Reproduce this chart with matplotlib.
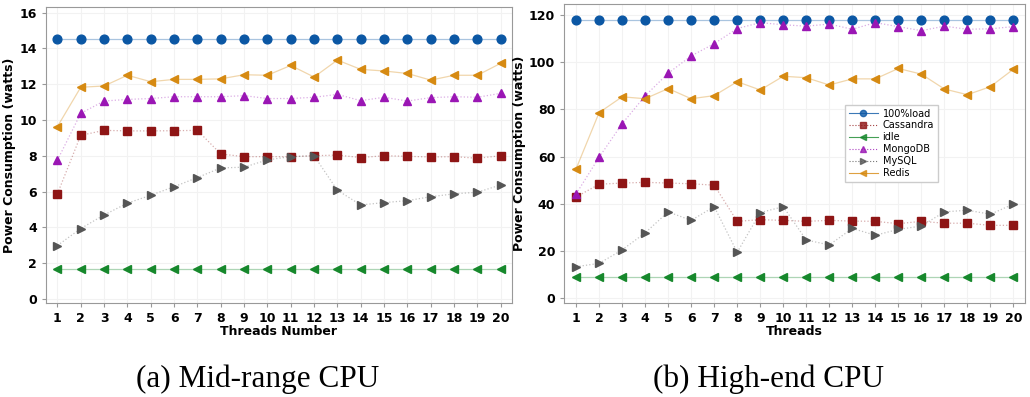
import matplotlib
matplotlib.use("Agg")
from matplotlib import pyplot as plt

threads = list(range(1, 21))

# mid-range CPU (watts)
mid_load = [14.5] * 20
mid_cassandra = [5.87, 9.14, 9.42, 9.39, 9.39, 9.40, 9.42, 8.10, 7.95, 7.95,
                 7.95, 8.00, 8.04, 7.90, 8.00, 7.97, 7.93, 7.95, 7.86, 8.00]
mid_idle = [1.65] * 20
mid_mongodb = [7.75, 10.37, 11.06, 11.15, 11.20, 11.30, 11.30, 11.30, 11.36, 11.20,
               11.20, 11.27, 11.43, 11.08, 11.27, 11.06, 11.25, 11.30, 11.27, 11.49]
mid_mysql = [2.98, 3.93, 4.69, 5.35, 5.79, 6.27, 6.78, 7.32, 7.36, 7.77,
             7.95, 8.00, 6.07, 5.25, 5.38, 5.49, 5.71, 5.87, 5.96, 6.37]
mid_redis = [9.63, 11.83, 11.90, 12.50, 12.14, 12.27, 12.27, 12.30, 12.53, 12.50,
             13.05, 12.40, 13.35, 12.83, 12.74, 12.60, 12.23, 12.50, 12.50, 13.17]

# high-end CPU (watts)
high_load = [118.0] * 20
high_cassandra = [42.9, 48.3, 48.8, 49.1, 48.8, 48.5, 47.9, 32.6, 33.3, 33.0,
                  32.6, 33.0, 32.7, 32.6, 31.6, 32.6, 31.8, 31.8, 30.9, 30.9]
high_idle = [9.0] * 20
high_mongodb = [44.2, 59.7, 73.9, 85.7, 95.3, 102.6, 107.8, 114.2, 116.7, 115.8,
                115.2, 116.1, 113.9, 116.7, 115.0, 113.3, 115.2, 113.9, 114.1, 115.0]
high_mysql = [13.4, 14.8, 20.5, 27.7, 36.6, 33.0, 38.8, 19.5, 36.3, 38.8,
              24.7, 22.6, 29.6, 26.7, 29.2, 30.6, 36.6, 37.3, 35.6, 39.9]
high_redis = [54.8, 78.6, 85.3, 84.5, 88.8, 84.5, 85.8, 91.7, 88.2, 94.0,
              93.4, 90.3, 92.9, 92.9, 97.3, 94.9, 88.6, 86.2, 89.6, 97.0]

names = ["100%load", "Cassandra", "idle", "MongoDB", "MySQL", "Redis"]
colors = ["#0b57a4", "#8e1515", "#16882c", "#9a16b4", "#555555", "#d68a12"]
markers = ["o", "s", "<", "^", ">", "<"]
styles = ["-", ":", "-", ":", ":", "-"]

fig = plt.figure(figsize=(10.3, 3.97), dpi=100)
ax1 = fig.add_axes([0.0444, 0.236, 0.4524, 0.7456])
ax2 = fig.add_axes([0.5479, 0.236, 0.4472, 0.754])

mid = [mid_load, mid_cassandra, mid_idle, mid_mongodb, mid_mysql, mid_redis]
high = [high_load, high_cassandra, high_idle, high_mongodb, high_mysql, high_redis]

for ax, data in [(ax1, mid), (ax2, high)]:
    for vals, name, c, m, ls in zip(data, names, colors, markers, styles):
        ax.plot(threads, vals, color=c, alpha=0.35, lw=0.9, ls=ls)
        ax.plot(threads, vals, ls="none", marker=m, ms=6.3, color=c, mec=c)
        # legend handle
        ax.plot([], [], color=c, ls=ls, lw=0.8, marker=m, ms=4.5, mec=c,
                alpha=0.8, label=name)
    ax.set_xticks(threads)
    ax.grid(True, color="#f2f2f2", lw=0.8)
    ax.set_axisbelow(True)
    for s in ax.spines.values():
        s.set_color("#999999")
    ax.tick_params(colors="#999999", labelcolor="black", length=3, width=0.8,
                   labelsize=9)
    ax.set_ylabel("Power Consumption (watts)", fontsize=9, fontweight="bold",
                  labelpad=2)

ax1.set_xlim(0.5, 20.47)
ax1.set_ylim(-0.25, 16.3)
ax1.set_yticks(range(0, 17, 2))
ax1.set_xlabel("Threads Number", fontsize=9, fontweight="bold", labelpad=0)

ax2.set_xlim(0.49, 20.5)
ax2.set_ylim(-2.1, 124.6)
ax2.set_yticks(range(0, 121, 20))
ax2.set_xlabel("Threads", fontsize=9, fontweight="bold", labelpad=0)
for lab in ax1.get_xticklabels() + ax1.get_yticklabels() + ax2.get_xticklabels() + ax2.get_yticklabels():
    lab.set_fontweight("bold")

ax2.legend(loc="upper left", bbox_to_anchor=(0.598, 0.68), fontsize=7,
           labelspacing=0.2, handlelength=3, borderpad=0.4, fancybox=False,
           edgecolor="#cccccc", framealpha=1, handletextpad=0.5)

fig.text(0.2505, 0.025, "(a) Mid-range CPU", family="Liberation Serif",
         fontsize=22.5, ha="center", va="baseline")
fig.text(0.7466, 0.025, "(b) High-end CPU", family="Liberation Serif",
         fontsize=22.5, ha="center", va="baseline")

fig.savefig("out.png", dpi=100)
